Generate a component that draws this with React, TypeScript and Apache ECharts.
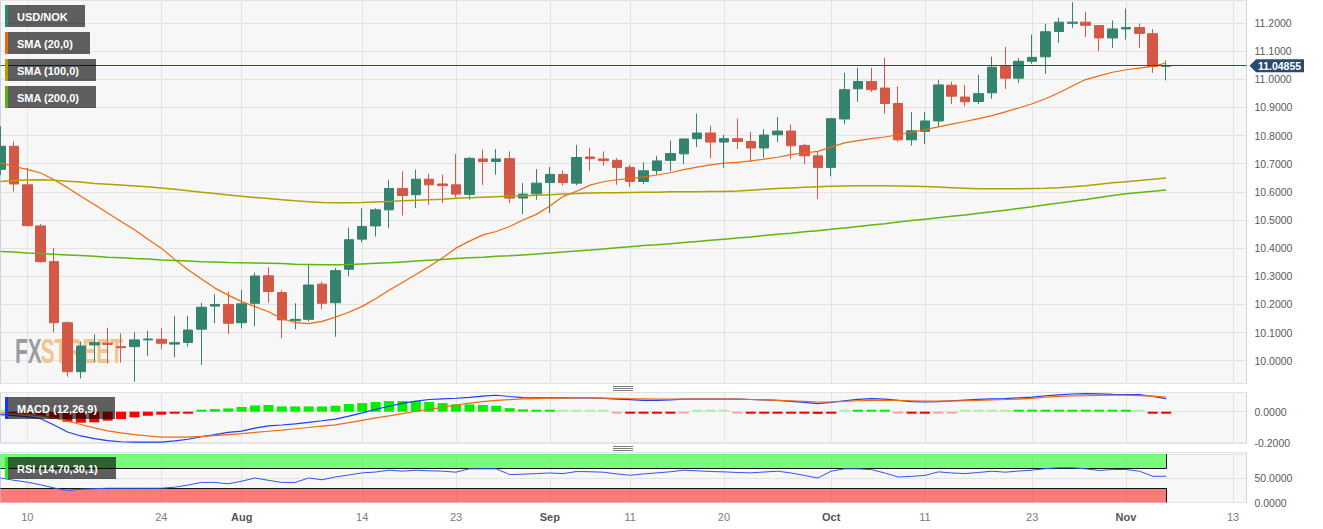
import React, { useEffect, useRef } from "react";
import * as echarts from "echarts";

// ---------- categories ----------
const START_DATE = "2023-07-06";
const CATEGORY_COUNT = 94;
function weekdays(start: string, count: number): string[] {
  const out: string[] = [];
  const d = new Date(start + "T00:00:00Z");
  while (out.length < count) {
    const wd = d.getUTCDay();
    if (wd !== 0 && wd !== 6) out.push(d.toISOString().slice(0, 10));
    d.setUTCDate(d.getUTCDate() + 1);
  }
  return out;
}
const DATES = weekdays(START_DATE, CATEGORY_COUNT);

const TICK_DATES = ["2023-07-10", "2023-07-24", "2023-08-01", "2023-08-14", "2023-08-23", "2023-09-01", "2023-09-11", "2023-09-20", "2023-10-02", "2023-10-11", "2023-10-23", "2023-11-01", "2023-11-13"];
const TICK_LABELS = ["10", "24", "Aug", "14", "23", "Sep", "11", "20", "Oct", "11", "23", "Nov", "13"];
const MONTH_LABELS = ["Aug", "Sep", "Oct", "Nov"];

// ---------- price data ----------
const OPEN = [10.680, 10.762, 10.625, 10.479, 10.352, 10.135, 9.961, 10.056, 10.062, 10.050, 10.050, 10.074, 10.076, 10.059, 10.065, 10.112, 10.194, 10.200, 10.135, 10.204, 10.302, 10.242, 10.142, 10.147, 10.272, 10.206, 10.325, 10.432, 10.479, 10.536, 10.612, 10.590, 10.645, 10.628, 10.625, 10.591, 10.717, 10.708, 10.718, 10.578, 10.593, 10.633, 10.662, 10.631, 10.724, 10.717, 10.712, 10.687, 10.637, 10.676, 10.712, 10.735, 10.789, 10.809, 10.777, 10.789, 10.779, 10.756, 10.803, 10.816, 10.765, 10.728, 10.687, 10.859, 10.966, 10.992, 10.969, 10.914, 10.785, 10.815, 10.852, 10.979, 10.937, 10.921, 10.952, 11.046, 11.004, 11.064, 11.080, 11.170, 11.199, 11.203, 11.191, 11.147, 11.179, 11.184, 11.162, 11.046];
const CLOSE = [10.762, 10.628, 10.480, 10.352, 10.135, 9.961, 10.052, 10.064, 10.058, 10.046, 10.074, 10.077, 10.062, 10.064, 10.109, 10.190, 10.200, 10.133, 10.202, 10.301, 10.246, 10.145, 10.147, 10.269, 10.204, 10.320, 10.430, 10.477, 10.536, 10.612, 10.587, 10.645, 10.625, 10.622, 10.592, 10.719, 10.708, 10.717, 10.578, 10.592, 10.631, 10.662, 10.633, 10.722, 10.718, 10.711, 10.687, 10.637, 10.675, 10.710, 10.736, 10.788, 10.809, 10.777, 10.789, 10.779, 10.756, 10.802, 10.816, 10.764, 10.728, 10.687, 10.860, 10.963, 10.992, 10.963, 10.914, 10.785, 10.817, 10.852, 10.980, 10.940, 10.920, 10.949, 11.043, 11.004, 11.064, 11.078, 11.169, 11.203, 11.203, 11.192, 11.147, 11.179, 11.184, 11.163, 11.046, 11.04855];
const LOW = [10.660, 10.601, 10.477, 10.349, 10.100, 9.943, 9.937, 9.996, 9.991, 9.993, 9.925, 10.017, 10.041, 10.012, 10.050, 9.985, 10.133, 10.095, 10.115, 10.123, 10.206, 10.080, 10.112, 10.139, 10.183, 10.085, 10.301, 10.420, 10.441, 10.471, 10.516, 10.542, 10.554, 10.560, 10.581, 10.572, 10.625, 10.661, 10.560, 10.521, 10.572, 10.525, 10.622, 10.623, 10.675, 10.693, 10.625, 10.617, 10.628, 10.661, 10.673, 10.699, 10.759, 10.720, 10.685, 10.752, 10.705, 10.720, 10.777, 10.717, 10.699, 10.574, 10.655, 10.841, 10.920, 10.955, 10.877, 10.777, 10.764, 10.770, 10.833, 10.912, 10.904, 10.912, 10.931, 10.966, 10.987, 11.055, 11.019, 11.130, 11.183, 11.151, 11.100, 11.112, 11.141, 11.112, 11.023, 10.996];
const HIGH = [10.833, 10.779, 10.685, 10.486, 10.400, 10.140, 10.068, 10.094, 10.117, 10.097, 10.101, 10.107, 10.115, 10.159, 10.159, 10.206, 10.236, 10.245, 10.252, 10.313, 10.332, 10.252, 10.204, 10.341, 10.281, 10.329, 10.473, 10.542, 10.542, 10.643, 10.673, 10.679, 10.664, 10.661, 10.734, 10.724, 10.750, 10.752, 10.744, 10.631, 10.681, 10.688, 10.676, 10.767, 10.756, 10.744, 10.720, 10.696, 10.705, 10.728, 10.782, 10.790, 10.878, 10.835, 10.803, 10.860, 10.813, 10.823, 10.866, 10.839, 10.771, 10.744, 10.863, 11.023, 11.041, 11.041, 11.076, 10.975, 10.884, 10.884, 10.999, 10.991, 10.980, 11.016, 11.080, 11.115, 11.076, 11.159, 11.198, 11.219, 11.274, 11.240, 11.191, 11.209, 11.251, 11.198, 11.179, 11.067];
const LAST_PRICE = 11.04855;

const SMA20 = [10.702, 10.690, 10.680, 10.667, 10.643, 10.615, 10.584, 10.555, 10.525, 10.495, 10.465, 10.432, 10.400, 10.360, 10.323, 10.290, 10.258, 10.233, 10.210, 10.192, 10.174, 10.150, 10.135, 10.132, 10.140, 10.155, 10.172, 10.193, 10.220, 10.250, 10.278, 10.306, 10.335, 10.366, 10.400, 10.425, 10.447, 10.459, 10.477, 10.500, 10.520, 10.550, 10.584, 10.602, 10.624, 10.636, 10.643, 10.647, 10.653, 10.660, 10.668, 10.679, 10.688, 10.696, 10.702, 10.705, 10.710, 10.716, 10.723, 10.732, 10.738, 10.744, 10.759, 10.774, 10.782, 10.789, 10.795, 10.803, 10.811, 10.821, 10.831, 10.841, 10.850, 10.860, 10.871, 10.884, 10.898, 10.913, 10.931, 10.952, 10.976, 10.999, 11.012, 11.025, 11.034, 11.040, 11.046, 11.058];
const SMA100 = [10.637, 10.640, 10.642, 10.643, 10.641, 10.638, 10.635, 10.630, 10.627, 10.624, 10.621, 10.618, 10.614, 10.609, 10.604, 10.599, 10.594, 10.589, 10.584, 10.580, 10.576, 10.572, 10.568, 10.565, 10.562, 10.561, 10.561, 10.562, 10.564, 10.566, 10.568, 10.570, 10.572, 10.574, 10.577, 10.579, 10.581, 10.583, 10.585, 10.586, 10.588, 10.590, 10.592, 10.594, 10.596, 10.597, 10.597, 10.598, 10.599, 10.599, 10.600, 10.600, 10.600, 10.601, 10.601, 10.603, 10.606, 10.609, 10.612, 10.614, 10.616, 10.618, 10.620, 10.621, 10.622, 10.622, 10.622, 10.621, 10.620, 10.619, 10.617, 10.615, 10.613, 10.611, 10.611, 10.611, 10.611, 10.612, 10.613, 10.615, 10.618, 10.622, 10.627, 10.632, 10.636, 10.640, 10.645, 10.649];
const SMA200 = [10.388, 10.386, 10.383, 10.381, 10.378, 10.376, 10.374, 10.371, 10.368, 10.366, 10.363, 10.361, 10.358, 10.356, 10.354, 10.352, 10.351, 10.349, 10.348, 10.347, 10.346, 10.345, 10.343, 10.342, 10.341, 10.341, 10.342, 10.344, 10.346, 10.348, 10.351, 10.354, 10.357, 10.360, 10.363, 10.366, 10.368, 10.371, 10.373, 10.376, 10.379, 10.383, 10.386, 10.390, 10.393, 10.397, 10.401, 10.405, 10.409, 10.412, 10.416, 10.420, 10.424, 10.428, 10.432, 10.436, 10.440, 10.445, 10.449, 10.453, 10.458, 10.462, 10.467, 10.472, 10.477, 10.482, 10.487, 10.493, 10.498, 10.503, 10.508, 10.513, 10.518, 10.524, 10.529, 10.535, 10.541, 10.547, 10.554, 10.560, 10.567, 10.573, 10.580, 10.587, 10.593, 10.598, 10.602, 10.607];

// ---------- MACD (12,26,9) ----------
const MACD_LINE = [-0.019, -0.025, -0.032, -0.045, -0.085, -0.130, -0.155, -0.172, -0.185, -0.192, -0.195, -0.195, -0.194, -0.186, -0.176, -0.160, -0.147, -0.132, -0.124, -0.105, -0.090, -0.085, -0.078, -0.068, -0.058, -0.047, -0.028, -0.008, 0.015, 0.035, 0.053, 0.067, 0.078, 0.082, 0.086, 0.092, 0.100, 0.105, 0.097, 0.090, 0.088, 0.088, 0.088, 0.089, 0.088, 0.085, 0.080, 0.077, 0.073, 0.072, 0.075, 0.080, 0.081, 0.081, 0.081, 0.080, 0.078, 0.076, 0.072, 0.066, 0.060, 0.052, 0.060, 0.070, 0.079, 0.083, 0.080, 0.072, 0.065, 0.062, 0.064, 0.069, 0.074, 0.079, 0.082, 0.084, 0.088, 0.093, 0.102, 0.108, 0.113, 0.115, 0.114, 0.111, 0.109, 0.109, 0.097, 0.083];
const MACD_SIGNAL = [-0.008, -0.012, -0.018, -0.025, -0.040, -0.061, -0.082, -0.103, -0.122, -0.135, -0.147, -0.155, -0.162, -0.163, -0.162, -0.158, -0.153, -0.146, -0.140, -0.132, -0.125, -0.118, -0.109, -0.101, -0.092, -0.084, -0.070, -0.055, -0.040, -0.027, -0.012, 0.003, 0.015, 0.028, 0.043, 0.055, 0.064, 0.072, 0.077, 0.082, 0.084, 0.086, 0.087, 0.088, 0.088, 0.087, 0.085, 0.083, 0.082, 0.081, 0.081, 0.081, 0.081, 0.081, 0.081, 0.080, 0.078, 0.076, 0.073, 0.070, 0.066, 0.062, 0.062, 0.066, 0.070, 0.072, 0.073, 0.072, 0.070, 0.067, 0.067, 0.069, 0.070, 0.073, 0.076, 0.078, 0.081, 0.085, 0.093, 0.098, 0.101, 0.102, 0.104, 0.105, 0.105, 0.103, 0.099, 0.094];
const MACD_HIST = [0, -0.004, -0.012, -0.028, -0.045, -0.064, -0.070, -0.068, -0.057, -0.047, -0.036, -0.026, -0.019, -0.011, -0.006, 0.013, 0.017, 0.021, 0.030, 0.040, 0.043, 0.034, 0.034, 0.034, 0.034, 0.038, 0.049, 0.055, 0.062, 0.068, 0.068, 0.068, 0.062, 0.055, 0.047, 0.047, 0.043, 0.038, 0.023, 0.015, 0.011, 0.006, 0.002, 0.002, 0.001, 0.000, -0.001, -0.004, -0.006, -0.006, -0.004, -0.002, 0.001, 0.001, 0.000, -0.001, -0.003, -0.003, -0.003, -0.004, -0.010, -0.014, -0.005, 0.001, 0.006, 0.007, 0.005, -0.001, -0.006, -0.006, -0.002, -0.001, 0.000, 0.001, 0.002, 0.002, 0.004, 0.004, 0.008, 0.010, 0.010, 0.009, 0.006, 0.004, 0.003, 0.001, -0.006, -0.010];

// ---------- RSI (14,70,30,1) ----------
const RSI = [50.6, 46, 42, 36.5, 30, 24.7, 27.4, 28.5, 29.5, 29.5, 29.5, 29.5, 29.5, 31.6, 36, 41.5, 41.5, 38.6, 44, 50.6, 45.8, 41.5, 41.5, 50.6, 47.0, 52.7, 57, 61.2, 63, 66.8, 64.7, 66.8, 65.5, 64.7, 62.6, 69.6, 69.6, 69.6, 57.6, 58.5, 59.7, 61, 59.7, 64.0, 63.5, 62.6, 59, 56.3, 59, 61.2, 63.5, 66.8, 65.5, 64, 63.3, 62, 61.2, 63, 64.7, 61, 56, 50.6, 64.7, 69.6, 69.6, 68, 61, 52.7, 54, 56, 63.3, 61, 59.7, 62, 64.7, 62.6, 65, 66.8, 70, 71.7, 71.7, 69.6, 66.1, 68.2, 68.2, 64.7, 54.2, 54.2];
const RSI_OVERBOUGHT = 70;
const RSI_OVERSOLD = 30;

// ---------- styles ----------
const FONT = 'Arial, "Liberation Sans", sans-serif';
const UP = "#33836f";
const DOWN = "#d45846";
const GRID_BG = "#f7f7f7";
const GRID_BORDER = "#cdd4e4";
const SPLIT = "#e3e3e3";

const LEGENDS = [
  { label: "USD/NOK", color: "#2f8a73", x: 5, y: 5, w: 80 },
  { label: "SMA (20,0)", color: "#ef6b12", x: 5, y: 32, w: 85 },
  { label: "SMA (100,0)", color: "#b3a000", x: 5, y: 59, w: 91 },
  { label: "SMA (200,0)", color: "#59b300", x: 5, y: 86, w: 91 },
  { label: "MACD (12,26,9)", color: "#1535ff", x: 5, y: 397, w: 110 },
  { label: "RSI (14,70,30,1)", color: "#22ee22", x: 5, y: 457, w: 111 },
];

const tickMap: Record<string, string> = {};
TICK_DATES.forEach((d, i) => (tickMap[d] = TICK_LABELS[i]));
const isTick = (_i: number, v: string) => v in tickMap;

function buildOption(): any {
  const lastIdx = CLOSE.length - 1;
  const lastDate = DATES[lastIdx];
  const xBase = (gridIndex: number, showLabels: boolean) => ({
    type: "category",
    gridIndex,
    data: DATES,
    boundaryGap: false,
    axisLine: { show: false },
    axisTick: { show: false },
    axisLabel: showLabels
      ? {
          show: true,
          interval: isTick,
          margin: 9,
          fontFamily: FONT,
          formatter: (v: string) => {
            const t = tickMap[v];
            if (!t) return "";
            return MONTH_LABELS.includes(t) ? `{m|${t}}` : `{d|${t}}`;
          },
          rich: {
            m: { fontFamily: FONT, fontSize: 11, fontWeight: "bold", color: "#555" },
            d: { fontFamily: FONT, fontSize: 11, color: "#7b7b7b" },
          },
        }
      : { show: false },
    splitLine: { show: true, interval: isTick, lineStyle: { color: SPLIT, width: 1 } },
  });
  const yLabel = {
    fontFamily: FONT,
    fontSize: 10.5,
    color: "#5a5a5a",
    margin: 8,
  };
  const graphics: any[] = [];
  // watermark
  graphics.push({
    type: "text", id: "wm1", x: 15, y: 350.5, scaleX: 0.58, z: 1, silent: true,
    style: { text: "FX", font: `bold 36px ${FONT}`, fill: "#9a9ca3", verticalAlign: "middle", align: "left" },
  });
  graphics.push({
    type: "text", id: "wm2", x: 40.7, y: 350.5, scaleX: 0.58, z: 1, silent: true,
    style: { text: "STREET", font: `bold 36px ${FONT}`, fill: "#f2c48e", verticalAlign: "middle", align: "left" },
  });
  // legend boxes
  LEGENDS.forEach((l, k) => {
    graphics.push({
      type: "rect", id: "lgb" + k, z: 100, silent: true,
      shape: { x: l.x, y: l.y, width: l.w, height: 22 },
      style: { fill: "rgba(0,0,0,0.62)" },
    });
    graphics.push({
      type: "rect", id: "lgs" + k, z: 101, silent: true,
      shape: { x: l.x, y: l.y, width: 3, height: 22 },
      style: { fill: l.color },
    });
    graphics.push({
      type: "text", id: "lgt" + k, z: 102, silent: true, x: l.x + 12, y: l.y + 11.5,
      style: { text: l.label, font: `bold 11px ${FONT}`, fill: "#ffffff", verticalAlign: "middle", align: "left" },
    });
  });
  // panel handles
  [386, 446].forEach((hy, k) => {
    [0, 2, 4].forEach((dy, j) => {
      graphics.push({
        type: "line", id: `h${k}_${j}`, z: 50, silent: true,
        shape: { x1: 613, y1: hy + dy + 0.5, x2: 633, y2: hy + dy + 0.5 },
        style: { stroke: "#7d7d7d", lineWidth: 1 },
      });
    });
  });

  return {
    animation: false,
    backgroundColor: "#ffffff",
    textStyle: { fontFamily: FONT },
    grid: [
      { left: 0.5, top: 0.5, width: 1246, height: 383, show: true, backgroundColor: GRID_BG, borderColor: GRID_BORDER, borderWidth: 1 },
      { left: 0.5, top: 392.5, width: 1246, height: 50.5, show: true, backgroundColor: GRID_BG, borderColor: GRID_BORDER, borderWidth: 1 },
      { left: 0.5, top: 452.5, width: 1246, height: 50, show: true, backgroundColor: GRID_BG, borderColor: GRID_BORDER, borderWidth: 1 },
    ],
    xAxis: [xBase(0, false), xBase(1, false), xBase(2, true)],
    yAxis: [
      {
        type: "value", gridIndex: 0, position: "right", min: 9.919, max: 11.28, splitNumber: 13,
        axisLine: { show: false }, axisTick: { show: false },
        axisLabel: { ...yLabel, showMinLabel: false, showMaxLabel: false, formatter: (v: number) => v.toFixed(4) },
        splitLine: { lineStyle: { color: SPLIT } },
      },
      {
        type: "value", gridIndex: 1, position: "right", min: -0.2, max: 0.1227, splitNumber: 2,
        axisLine: { show: false }, axisTick: { show: false },
        axisLabel: { ...yLabel, showMaxLabel: false, formatter: (v: number) => v.toFixed(4) },
        splitLine: { lineStyle: { color: SPLIT } },
      },
      {
        type: "value", gridIndex: 2, position: "right", min: 0, max: 103.3, splitNumber: 2,
        axisLine: { show: false }, axisTick: { show: false },
        axisLabel: {
          ...yLabel, showMaxLabel: false,
          formatter: (v: number) => (v === 0 || v === 50 ? v.toFixed(4) : ""),
        },
        splitLine: { lineStyle: { color: SPLIT } },
      },
    ],
    series: [
      {
        type: "candlestick", name: "USD/NOK", xAxisIndex: 0, yAxisIndex: 0, z: 3,
        barWidth: 10,
        data: OPEN.map((o, i) => [o, CLOSE[i], LOW[i], HIGH[i]]),
        itemStyle: { color: UP, color0: DOWN, borderColor: UP, borderColor0: DOWN, borderWidth: 1 },
        markLine: {
          silent: true, symbol: ["none", "none"], animation: false,
          label: { show: false },
          lineStyle: { color: "#2a476c", width: 1, type: "solid" },
          data: [{ yAxis: LAST_PRICE }],
        },
      },
      { type: "line", name: "SMA (20,0)", xAxisIndex: 0, yAxisIndex: 0, data: SMA20, showSymbol: false, z: 4, lineStyle: { color: "#f0680c", width: 1.2 } },
      { type: "line", name: "SMA (100,0)", xAxisIndex: 0, yAxisIndex: 0, data: SMA100, showSymbol: false, z: 4, lineStyle: { color: "#b1a000", width: 1.5 } },
      { type: "line", name: "SMA (200,0)", xAxisIndex: 0, yAxisIndex: 0, data: SMA200, showSymbol: false, z: 4, lineStyle: { color: "#5cb80a", width: 1.5 } },
      {
        type: "bar", name: "Histogram", xAxisIndex: 1, yAxisIndex: 1, barWidth: 10, barMinHeight: 2,
        data: MACD_HIST.map((v) => ({
          value: v,
          itemStyle: {
            color: v >= 0 ? (v <= 0.002 ? "#a6f2a6" : "#00f000") : (v >= -0.002 ? "#f4a9a9" : "#f70000"),
          },
        })),
      },
      { type: "line", name: "MACD", xAxisIndex: 1, yAxisIndex: 1, data: MACD_LINE, showSymbol: false, lineStyle: { color: "#1f3cf5", width: 1.2 } },
      { type: "line", name: "Signal", xAxisIndex: 1, yAxisIndex: 1, data: MACD_SIGNAL, showSymbol: false, lineStyle: { color: "#f26a10", width: 1.2 } },
      {
        type: "line", name: "RSI", xAxisIndex: 2, yAxisIndex: 2, data: RSI, showSymbol: false, z: 5,
        lineStyle: { color: "#2f55ef", width: 1 },
        markArea: {
          silent: true,
          data: [
            [{ xAxis: DATES[0], yAxis: RSI_OVERBOUGHT, itemStyle: { color: "rgba(0,255,0,0.5)" } }, { xAxis: lastDate, yAxis: 100 }],
            [{ xAxis: DATES[0], yAxis: 0, itemStyle: { color: "rgba(255,0,0,0.5)" } }, { xAxis: lastDate, yAxis: RSI_OVERSOLD }],
          ],
        },
        markLine: {
          silent: true, symbol: ["none", "none"], label: { show: false },
          lineStyle: { color: "#111", width: 1, type: "solid" },
          data: [
            [{ coord: [DATES[0], RSI_OVERBOUGHT] }, { coord: [lastDate, RSI_OVERBOUGHT] }],
            [{ coord: [DATES[0], RSI_OVERSOLD] }, { coord: [lastDate, RSI_OVERSOLD] }],
            [{ coord: [lastDate, RSI_OVERBOUGHT] }, { coord: [lastDate, 100] }],
            [{ coord: [lastDate, 0] }, { coord: [lastDate, RSI_OVERSOLD] }],
          ],
        },
      },
    ],
    graphic: graphics,
  };
}

export default function App() {
  const ref = useRef<HTMLDivElement>(null);
  useEffect(() => {
    if (!ref.current) return;
    const chart = echarts.init(ref.current, null, { renderer: "svg" });
    chart.setOption(buildOption());
    const py = chart.convertToPixel({ yAxisIndex: 0 }, LAST_PRICE) as number;
    chart.setOption({
      graphic: [
        {
          type: "polygon", id: "tagShape", z: 60,
          shape: { points: [[1249.5, py], [1256, py - 6.5], [1304, py - 6.5], [1304, py + 6.5], [1256, py + 6.5]] },
          style: { fill: "#2b4a6e" },
        },
        {
          type: "text", id: "tagText", z: 61, x: 1279.5, y: py + 0.5,
          style: { text: LAST_PRICE.toFixed(5), font: `bold 10.5px ${FONT}`, fill: "#ffffff", align: "center", verticalAlign: "middle" },
        },
      ],
    });
    return () => chart.dispose();
  }, []);
  return <div ref={ref} style={{ position: "absolute", left: 0, top: 0, width: 1323, height: 529 }} />;
}
